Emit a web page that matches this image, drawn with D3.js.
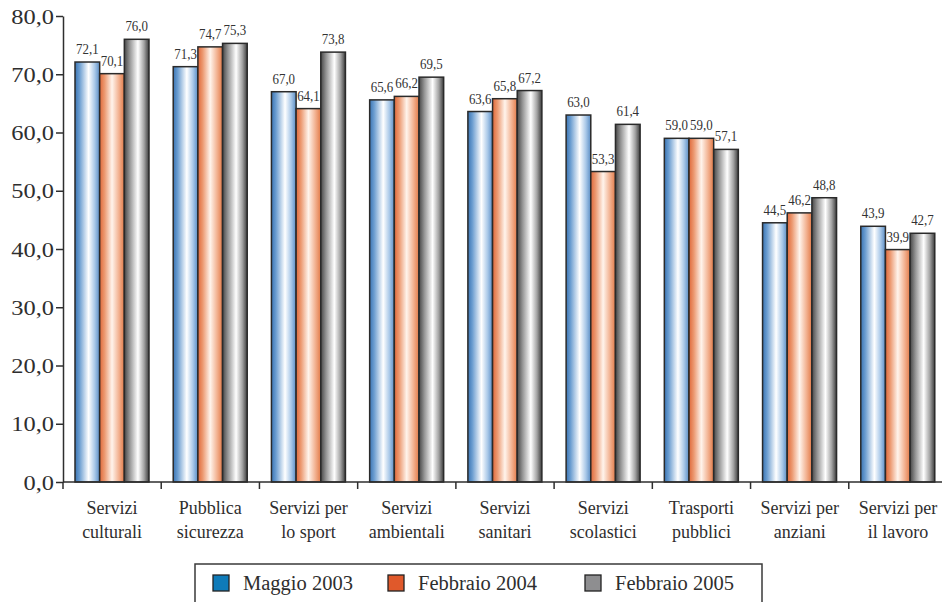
<!DOCTYPE html>
<html>
<head>
<meta charset="utf-8">
<script src="https://cdn.jsdelivr.net/npm/d3@7"></script>
<style>
  html, body { margin: 0; padding: 0; background: #fff; }
  svg { display: block; font-family: "Liberation Serif", "Times New Roman", serif; }
</style>
</head>
<body>
<svg id="chart" width="942" height="602"></svg>
<script>
// Categories (two-line labels) and the three survey waves
const categories = [
  ["Servizi", "culturali"],
  ["Pubblica", "sicurezza"],
  ["Servizi per", "lo sport"],
  ["Servizi", "ambientali"],
  ["Servizi", "sanitari"],
  ["Servizi", "scolastici"],
  ["Trasporti", "pubblici"],
  ["Servizi per", "anziani"],
  ["Servizi per", "il lavoro"]
];
const seriesNames = ["Maggio 2003", "Febbraio 2004", "Febbraio 2005"];
const maggio2003   = [72.1, 71.3, 67.0, 65.6, 63.6, 63.0, 59.0, 44.5, 43.9];
const febbraio2004 = [70.1, 74.7, 64.1, 66.2, 65.8, 53.3, 59.0, 46.2, 39.9];
const febbraio2005 = [76.0, 75.3, 73.8, 69.5, 67.2, 61.4, 57.1, 48.8, 42.7];
const yTicks = [0, 10, 20, 30, 40, 50, 60, 70, 80];

const seriesValues = [maggio2003, febbraio2004, febbraio2005];
const catKeys = categories.map(c => c.join(" "));
const fmt = v => v.toFixed(1).replace(".", ",");

const svg = d3.select("#chart");
const ink = "#2e2e2e";

// Cylinder-like horizontal gradients for each series
const defs = svg.append("defs");
const gradients = [
  [[0, "#3a74b3"], [0.18, "#6b9dd0"], [0.55, "#ffffff"], [0.8, "#a9c8e8"], [1, "#5a8dc5"]],
  [[0, "#e0693a"], [0.2, "#ec9a72"], [0.5, "#fff4ec"], [0.78, "#f2b190"], [1, "#e27a48"]],
  [[0, "#474747"], [0.22, "#969696"], [0.55, "#ffffff"], [0.8, "#a3a3a3"], [1, "#3c3c3c"]]
];
gradients.forEach((stops, i) => {
  const g = defs.append("linearGradient")
    .attr("id", "grad" + i)
    .attr("x1", 0).attr("x2", 1).attr("y1", 0).attr("y2", 0);
  stops.forEach(([o, c]) => g.append("stop").attr("offset", o).attr("stop-color", c));
});
const legendColors = ["#0f7bb9", "#e0592b", "#8e8e90"];

// Scales
const x0 = d3.scaleBand().domain(catKeys).range([63, 947]).padding(0);
const x1 = d3.scaleBand().domain(seriesNames).range([12, 86]).padding(0);
const y = d3.scaleLinear().domain([0, 80]).range([482, 16]);

// Y axis
const yAxis = svg.append("g").attr("transform", "translate(63,0)")
  .call(d3.axisLeft(y).tickValues(yTicks).tickSize(7).tickSizeOuter(0).tickFormat(fmt));
yAxis.attr("font-family", null);
yAxis.select(".domain").attr("stroke", ink).attr("stroke-width", 1.5);
yAxis.selectAll(".tick line").attr("stroke", ink).attr("stroke-width", 1.5);
yAxis.selectAll(".tick text")
  .attr("x", -9)
  .attr("dy", "0.36em")
  .attr("font-size", 20)
  .attr("fill", ink)
  .each(function() {
    const len = this.getComputedTextLength();
    d3.select(this).attr("textLength", len * 1.22).attr("lengthAdjust", "spacingAndGlyphs");
  });

// Bars
const groups = svg.append("g").selectAll("g")
  .data(catKeys)
  .join("g")
  .attr("transform", d => `translate(${x0(d)},0)`);

groups.each(function(cat, ci) {
  const g = d3.select(this);
  seriesNames.forEach((s, si) => {
    const v = seriesValues[si][ci];
    g.append("rect")
      .attr("x", x1(s))
      .attr("y", y(v))
      .attr("width", x1.bandwidth())
      .attr("height", y(0) - y(v))
      .attr("fill", `url(#grad${si})`)
      .attr("stroke", "#2a2a2a")
      .attr("stroke-width", 1.5);
  });
  seriesNames.forEach((s, si) => {
    const v = seriesValues[si][ci];
    const t = g.append("text")
      .attr("x", x1(s) + x1.bandwidth() / 2)
      .attr("y", y(v) - 8)
      .attr("text-anchor", "middle")
      .attr("font-size", 15)
      .attr("fill", "#333")
      .text(fmt(v));
    const len = t.node().getComputedTextLength();
    t.attr("textLength", len * 0.86).attr("lengthAdjust", "spacingAndGlyphs");
  });
});

// X axis
const xAxis = svg.append("g").attr("transform", "translate(0,482)");
xAxis.append("line")
  .attr("x1", 63).attr("x2", 942).attr("y1", 0).attr("y2", 0)
  .attr("stroke", ink).attr("stroke-width", 1.5);
xAxis.selectAll("line.tk")
  .data(catKeys)
  .join("line")
  .attr("class", "tk")
  .attr("x1", d => x0(d)).attr("x2", d => x0(d))
  .attr("y1", 0).attr("y2", 7)
  .attr("stroke", ink).attr("stroke-width", 1.5);
const catText = xAxis.selectAll("text.cat")
  .data(categories)
  .join("text")
  .attr("class", "cat")
  .attr("text-anchor", "middle")
  .attr("font-size", 18)
  .attr("fill", ink)
  .attr("transform", (d, i) => `translate(${x0(catKeys[i]) + x0.bandwidth() / 2},0)`);
catText.append("tspan").attr("x", 0).attr("y", 32).text(d => d[0]);
catText.append("tspan").attr("x", 0).attr("y", 56).text(d => d[1]);

// Legend
const legend = svg.append("g");
legend.append("rect")
  .attr("x", 195).attr("y", 564).attr("width", 567).attr("height", 60)
  .attr("fill", "#fff").attr("stroke", "#3a3a3a").attr("stroke-width", 1.5);
const legendX = [213, 388, 585];
seriesNames.forEach((s, i) => {
  legend.append("rect")
    .attr("x", legendX[i]).attr("y", 575).attr("width", 16).attr("height", 16)
    .attr("fill", legendColors[i]).attr("stroke", "#222").attr("stroke-width", 1.3);
  legend.append("text")
    .attr("x", legendX[i] + 30).attr("y", 590)
    .attr("font-size", 20.5)
    .attr("fill", ink)
    .text(s);
});
</script>
</body>
</html>
